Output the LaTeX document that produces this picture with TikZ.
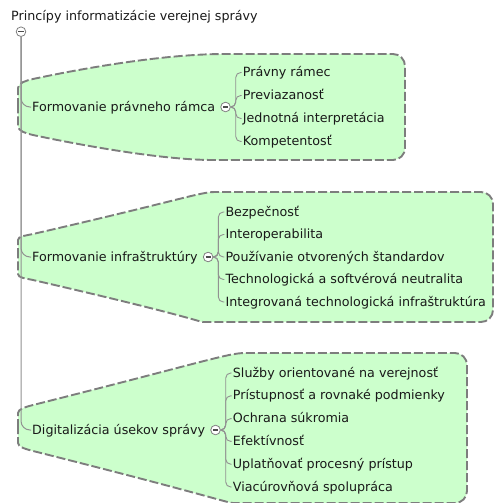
\documentclass[tikz,border=0pt]{standalone}
\usepackage{fontspec}
\setmainfont{DejaVu Sans}
\usepackage{tikz}
\usetikzlibrary{positioning}

\definecolor{blobgreen}{RGB}{204,255,204}
\definecolor{blobline}{RGB}{125,125,125}
\definecolor{wiregray}{RGB}{145,145,145}

\tikzset{
  txt/.style={anchor=west, inner sep=1pt, text height=10pt, text depth=2pt,
    font=\fontsize{12.7}{15}\selectfont, text=black!90},
  item/.style={txt, xshift=6pt},
  blob/.style={fill=blobgreen, draw=blobline, line width=1.9pt, dash pattern=on 9pt off 3pt},
  wire/.style={draw=wiregray, line width=0.9pt, rounded corners=5pt},
  trunk/.style={draw=wiregray, line width=1pt, rounded corners=9pt},
  minus/.style={circle, draw=gray, fill=white, inner sep=0pt, minimum size=9.6pt, line width=0.8pt,
    path picture={\draw[black!70, line width=1.3pt]
      ([xshift=-2.6pt]path picture bounding box.center) -- ([xshift=2.6pt]path picture bounding box.center);}}
}

\begin{document}
\begin{tikzpicture}[x=1pt, y=-1pt]
            \clip (0,0) rectangle (495,503);
            % green groups
            \draw[blob] (18,107) -- (18,88) .. controls (18,83) and (26,80.5) .. (33,79)
                .. controls (75,70) and (160,54) .. (225,54)
                [rounded corners=12pt] -- (405,54) -- (405,160) -- (225,160) [sharp corners]
                .. controls (160,160) and (75,144) .. (33,135)
                .. controls (26,133.5) and (18,131) .. (18,126) -- cycle;
            \draw[blob] (18,257) -- (18,240) .. controls (18,236) and (26,235.6) .. (33,234)
                .. controls (183,199.5) and (200,192) .. (215,192)
                [rounded corners=12pt] -- (493,192) -- (493,322) -- (215,322) [sharp corners]
                .. controls (200,322) and (183,314.5) .. (33,280)
                .. controls (26,278.4) and (18,278) .. (18,274) -- cycle;
            \draw[blob] (18,428) -- (18,413) .. controls (18,409) and (26,406.8) .. (33,405)
                .. controls (200,363) and (228,353) .. (245,353)
                [rounded corners=12pt] -- (467,353) -- (467,503) -- (245,503) [sharp corners]
                .. controls (228,503) and (200,493) .. (33,451)
                .. controls (26,449.2) and (18,447) .. (18,443) -- cycle;

            \node at (10,17) [txt] (root) {Princípy informatizácie verejnej správy};
            \node at (21,31.7) [minus] (rc) {};

            \node at (31,107) [txt] (g1) {Formovanie právneho rámca};
            \node[minus, right=4pt of g1] (c1) {};
            \coordinate (j1) at ([xshift=5pt]c1.east);
            \node at (j1 |- 0,72.5) [item] (p11) {Právny rámec};
            \node at (j1 |- 0,95.5) [item] (p12) {Previazanosť};
            \node at (j1 |- 0,118.5) [item] (p13) {Jednotná interpretácia};
            \node at (j1 |- 0,141.5) [item] (p14) {Kompetentosť};

            \node at (31,257) [txt] (g2) {Formovanie infraštruktúry};
            \node[minus, right=4pt of g2] (c2) {};
            \coordinate (j2) at ([xshift=5pt]c2.east);
            \node at (j2 |- 0,212) [item] (p21) {Bezpečnosť};
            \node at (j2 |- 0,234.5) [item] (p22) {Interoperabilita};
            \node at (j2 |- 0,257) [item] (p23) {Používanie otvorených štandardov};
            \node at (j2 |- 0,279.5) [item] (p24) {Technologická a softvérová neutralita};
            \node at (j2 |- 0,302) [item] (p25) {Integrovaná technologická infraštruktúra};

            \node at (31,430) [txt] (g3) {Digitalizácia úsekov správy};
            \node[minus, right=4pt of g3] (c3) {};
            \coordinate (j3) at ([xshift=5pt]c3.east);
            \node at (j3 |- 0,373) [item] (p31) {Služby orientované na verejnosť};
            \node at (j3 |- 0,395.8) [item] (p32) {Prístupnosť a rovnaké podmienky};
            \node at (j3 |- 0,418.6) [item] (p33) {Ochrana súkromia};
            \node at (j3 |- 0,441.4) [item] (p34) {Efektívnosť};
            \node at (j3 |- 0,464.2) [item] (p35) {Uplatňovať procesný prístup};
            \node at (j3 |- 0,487) [item] (p36) {Viacúrovňová spolupráca};

            \draw[trunk] (rc.south) |- (g1.west);
            \draw[trunk] (rc.south) |- (g2.west);
            \draw[trunk] (rc.south) |- (g3.west);
            \draw[wire] (c1.east) -- (j1) |- (p11.west);
            \draw[wire] (c1.east) -- (j1) |- (p12.west);
            \draw[wire] (c1.east) -- (j1) |- (p13.west);
            \draw[wire] (c1.east) -- (j1) |- (p14.west);
            \draw[wire] (c2.east) -- (j2) |- (p21.west);
            \draw[wire] (c2.east) -- (j2) |- (p22.west);
            \draw[wire] (c2.east) -- (j2) |- (p23.west);
            \draw[wire] (c2.east) -- (j2) |- (p24.west);
            \draw[wire] (c2.east) -- (j2) |- (p25.west);
            \draw[wire] (c3.east) -- (j3) |- (p31.west);
            \draw[wire] (c3.east) -- (j3) |- (p32.west);
            \draw[wire] (c3.east) -- (j3) |- (p33.west);
            \draw[wire] (c3.east) -- (j3) |- (p34.west);
            \draw[wire] (c3.east) -- (j3) |- (p35.west);
            \draw[wire] (c3.east) -- (j3) |- (p36.west);
        \end{tikzpicture}
\end{document}
